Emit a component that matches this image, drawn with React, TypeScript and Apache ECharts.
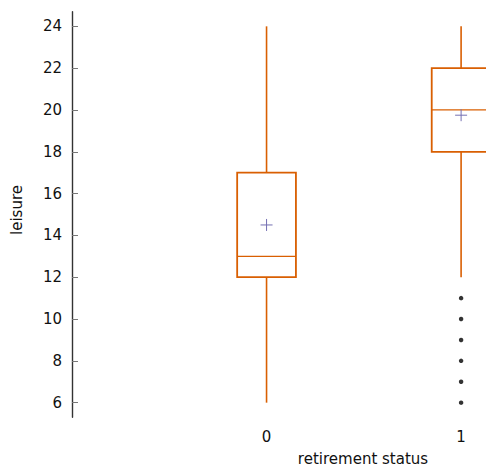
import React, { useEffect, useRef } from "react";
import * as echarts from "echarts";

const categories = [0, 1];
const whiskerLow = [6, 12];
const q1 = [12, 18];
const median = [13, 20];
const q3 = [17, 22];
const whiskerHigh = [24, 24];
const means = [14.5, 19.75];
const outlierCategory = [1, 1, 1, 1, 1, 1];
const outlierValues = [11, 10, 9, 8, 7, 6];
const yTicks = [6, 8, 10, 12, 14, 16, 18, 20, 22, 24];

const ORANGE = "#d95f02";
const PURPLE = "#7570b3";
const FONT = "DejaVu Sans";

export default function App() {
  const ref = useRef<HTMLDivElement>(null);
  useEffect(() => {
    if (!ref.current) return;
    const chart = echarts.init(ref.current, undefined, { renderer: "svg" });
    const boxData = categories.map((c, i) => [
      c,
      whiskerLow[i],
      q1[i],
      median[i],
      q3[i],
      whiskerHigh[i],
      means[i],
    ]);
    const outliers = outlierCategory.map((c, i) => [c, outlierValues[i]]);
    chart.setOption({
      animation: false,
      grid: { left: 72, top: 11.7, bottom: 49.7, right: 0 },
      xAxis: {
        type: "value",
        min: -1,
        max: 1.128,
        interval: 1,
        axisLine: { show: false },
        axisTick: { show: false },
        splitLine: { show: false },
        axisLabel: {
          margin: 12,
          fontFamily: FONT,
          fontSize: 15,
          color: "#111",
          showMaxLabel: false,
          formatter: (v: number) => (categories.includes(v) ? String(v) : ""),
        },
      },
      yAxis: {
        type: "value",
        min: 5.3,
        max: 24.7,
        splitLine: { show: false },
        axisLine: { show: true, onZero: false, lineStyle: { color: "#333", width: 1.4 } },
        axisTick: {
          show: true,
          inside: true,
          length: 6,
          customValues: yTicks,
          lineStyle: { color: "#777", width: 1 },
        },
        axisLabel: {
          customValues: yTicks,
          margin: 10,
          fontFamily: FONT,
          fontSize: 15,
          color: "#111",
        },
      },
      series: [
        {
          type: "custom",
          clip: false,
          data: boxData,
          renderItem: (params: any, api: any) => {
            const x = api.value(0);
            const lo = api.coord([x, api.value(1)]);
            const b1 = api.coord([x, api.value(2)]);
            const md = api.coord([x, api.value(3)]);
            const b3 = api.coord([x, api.value(4)]);
            const hi = api.coord([x, api.value(5)]);
            const mn = api.coord([x, api.value(6)]);
            const hw = api.size([0.151, 0])[0];
            const line = { stroke: ORANGE, lineWidth: 1.6, fill: "none" };
            return {
              type: "group",
              children: [
                { type: "line", shape: { x1: lo[0], y1: lo[1], x2: b1[0], y2: b1[1] }, style: line },
                { type: "line", shape: { x1: b3[0], y1: b3[1], x2: hi[0], y2: hi[1] }, style: line },
                {
                  type: "rect",
                  shape: { x: b3[0] - hw, y: b3[1], width: 2 * hw, height: b1[1] - b3[1] },
                  style: { stroke: ORANGE, lineWidth: 1.8, fill: "none" },
                },
                {
                  type: "line",
                  shape: { x1: md[0] - hw, y1: md[1], x2: md[0] + hw, y2: md[1] },
                  style: { stroke: ORANGE, lineWidth: 1.3 },
                },
                {
                  type: "line",
                  shape: { x1: mn[0] - 6, y1: mn[1], x2: mn[0] + 6, y2: mn[1] },
                  style: { stroke: PURPLE, lineWidth: 1 },
                },
                {
                  type: "line",
                  shape: { x1: mn[0], y1: mn[1] - 6, x2: mn[0], y2: mn[1] + 6 },
                  style: { stroke: PURPLE, lineWidth: 1 },
                },
              ],
            };
          },
        },
        {
          type: "scatter",
          data: outliers,
          symbol: "circle",
          symbolSize: 4.5,
          itemStyle: { color: "#000" },
        },
      ],
      graphic: [
        {
          type: "text",
          x: 17,
          y: 210,
          rotation: Math.PI / 2,
          style: {
            text: "leisure",
            fontFamily: FONT,
            fontSize: 15,
            fill: "#111",
            align: "center",
            verticalAlign: "middle",
          },
        },
        {
          type: "text",
          x: 363,
          y: 459,
          style: {
            text: "retirement status",
            fontFamily: FONT,
            fontSize: 15,
            fill: "#111",
            align: "center",
            verticalAlign: "middle",
          },
        },
      ],
    });
    return () => chart.dispose();
  }, []);
  return <div ref={ref} style={{ width: 486, height: 467, position: "absolute", left: 0, top: 0 }} />;
}
